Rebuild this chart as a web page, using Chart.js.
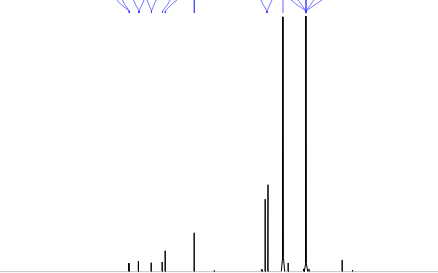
<!DOCTYPE html>
<html>
<head>
<meta charset="utf-8">
<script src="https://cdn.jsdelivr.net/npm/chart.js@4"></script>
<style>
  html, body { margin: 0; padding: 0; background: #fff; }
  #wrap { width: 438px; height: 273px; }
</style>
</head>
<body>
<div id="wrap"><canvas id="nmr"></canvas></div>
<script>
// 13C spectrum, peak list (ppm, relative height)
var peakPpm    = [126.99, 123.08, 117.82, 113.30, 112.07, 100.15, 91.93, 72.33, 70.97, 69.86, 63.70, 61.52, 55.07, 54.25, 53.01, 39.33, 35.05];
var peakHeight = [3.1,    3.9,    3.3,    3.55,   7.7,    14.3,   0.45,  0.8,   26.7,  32.0,  93.8,  3.2,   1.0,   94.1,  1.0,   4.3,   0.6];
// broad foot under the two big signals (0 = none)
var footHeight = [0, 0, 0, 0, 0, 0, 0, 0, 0, 0, 5.3, 0, 0, 3.0, 0, 0, 0];

// label leader lines: peak each one points to, and where it leaves the top edge
var leaderPeak = [126.86, 126.86, 122.88, 122.88, 117.74, 117.74, 113.22, 112.07, 100.15, 70.27, 70.27, 63.70, 54.25, 54.25, 54.25, 54.25, 54.25];
var leaderTop  = [131.92, 129.66, 125.14, 120.82, 119.59, 115.89, 110.14, 107.26, 100.15, 72.74, 68.22, 63.70, 60.41, 57.53, 54.25, 50.96, 47.67];
var leaderBend = [130.5,  128.9,  124.4,  121.5,  118.9,  116.6,  111.0,  109.32, 100.15, 72.0,  69.0,  63.70, 58.36, 56.30, 54.25, 52.19, 50.14];

var spikeW = 0.1;
var pts = [{ x: 0, y: 0 }, { x: 180, y: 0 }];
for (var i = 0; i < peakPpm.length; i++) {
  var p = peakPpm[i];
  if (footHeight[i] > 0) {
    pts.push({ x: p - 0.7, y: 0 }, { x: p - 0.15, y: footHeight[i] },
             { x: p, y: peakHeight[i] },
             { x: p + 0.15, y: footHeight[i] }, { x: p + 0.7, y: 0 });
  } else {
    pts.push({ x: p - spikeW, y: 0 }, { x: p, y: peakHeight[i] }, { x: p + spikeW, y: 0 });
  }
}
pts.sort(function (a, b) { return a.x - b.x; });

var datasets = [{
  data: pts,
  borderColor: "#000",
  borderWidth: 1,
  pointRadius: 0,
  tension: 0,
  segment: {
    // flat baseline is drawn faint, like the noisy baseline of the scan
    borderColor: function (ctx) {
      return (ctx.p0.parsed.y === 0 && ctx.p1.parsed.y === 0) ? "#c4c4c4" : undefined;
    }
  }
}];

for (var j = 0; j < leaderPeak.length; j++) {
  datasets.push({
    data: [
      { x: leaderTop[j], y: 100 },
      { x: leaderBend[j], y: 98.5 },
      { x: leaderPeak[j], y: 95.95 },
      { x: leaderPeak[j], y: 95.2 }
    ],
    borderColor: j == 11 ? "rgba(150,150,255,0.7)" : "rgba(60,60,255,0.7)",
    borderWidth: 1,
    pointRadius: 0,
    tension: 0
  });
}

new Chart("nmr", {
  type: "line",
  data: { datasets: datasets },
  options: {
    responsive: true,
    maintainAspectRatio: false,
    animation: false,
    layout: { padding: 0 },
    plugins: { legend: { display: false }, tooltip: { enabled: false } },
    scales: {
      x: { type: "linear", min: 0, max: 180, reverse: true, display: false },
      y: { min: -0.5, max: 100, display: false }
    }
  }
});
</script>
</body>
</html>
